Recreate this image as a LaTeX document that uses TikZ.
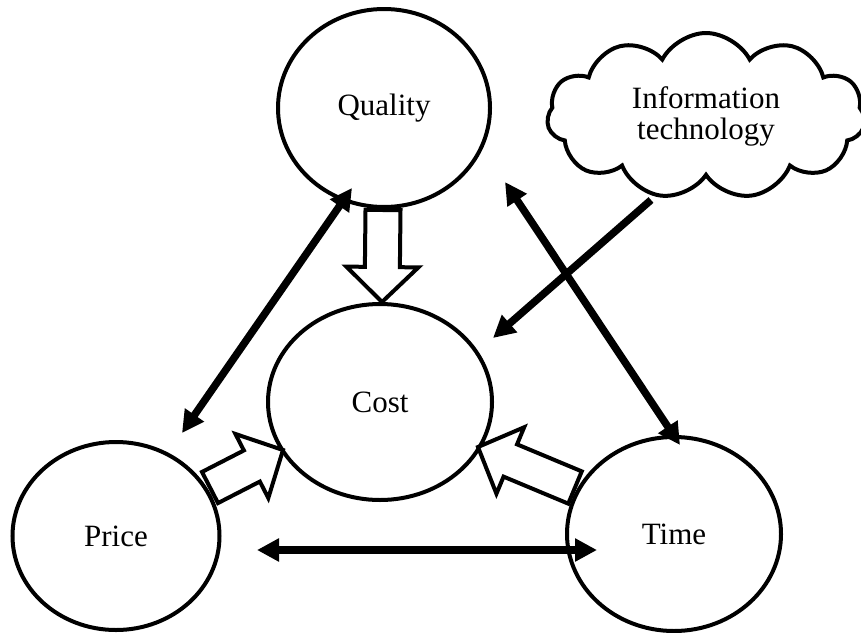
\documentclass[tikz,border=0pt]{standalone}
\usepackage{fontspec}
\setmainfont{Liberation Serif}
\usetikzlibrary{shapes.geometric,shapes.symbols,arrows.meta,calc}
\newcommand\fatarrow[2]{%
  \coordinate (fa) at (#1);
  \coordinate (fb) at (#2);
  \coordinate (fn) at ($(fb)!35pt!(fa)$);
  \draw[hollow] ($(fa)!17.5pt!90:(fb)$) -- ($(fn)!17.5pt!-90:(fa)$) -- ($(fn)!36pt!-90:(fa)$)
    -- (fb) -- ($(fn)!36pt!90:(fa)$) -- ($(fn)!17.5pt!90:(fa)$) -- ($(fa)!17.5pt!-90:(fb)$) -- cycle;
}
\begin{document}
\begin{tikzpicture}[x=1pt,y=-1pt,
  circ/.style={draw, ellipse, line width=4pt, inner sep=0pt, font=\fontsize{31}{33}\selectfont},
  dbl/.style={line width=7.5pt, {Triangle[length=22pt,width=22pt]}-{Triangle[length=22pt,width=22pt]}},
  sgl/.style={line width=7.5pt, -{Triangle[length=22pt,width=22pt]}},
  hollow/.style={draw, fill=white, line width=4pt, line join=miter}
]
\useasboundingbox (0,0) rectangle (861,632);
\node[circ, minimum width=212pt, minimum height=198pt] (quality) at (384,108) {Quality};
\node[circ, minimum width=224pt, minimum height=196pt] (cost) at (380,402) {Cost};
\node[circ, minimum width=207pt, minimum height=188pt] (price) at (116,536) {Price};
\node[circ, minimum width=214pt, minimum height=194pt] (time) at (674,534) {Time};
\node[draw, cloud, cloud puffs=11, cloud puff arc=125, aspect=2, line width=4pt,
  minimum width=318pt, minimum height=166pt, inner sep=0pt, align=center,
  font=\fontsize{31}{31}\selectfont] (it) at (706,116) {Information\\technology};
\fatarrow{$(quality)+(-1,102)$}{$(cost)+(2,-100)$}
\fatarrow{$(price)+(94,-48.5)$}{$(cost)+(-97,48)$}
\fatarrow{$(time)+(-99,-46.5)$}{$(cost)+(98,45)$}
\draw[dbl] ($(price)+(66,-103)$) -- ($(quality)+(-32,80)$);
\draw[dbl] ($(quality)+(121,74)$) -- ($(time)+(6,-89)$);
\draw[dbl] ($(price)+(141,14)$) -- ($(time)+(-77,16)$);
\draw[sgl] ($(it)+(-55,84)$) -- ($(cost)+(113,-64)$);
\end{tikzpicture}
\end{document}
